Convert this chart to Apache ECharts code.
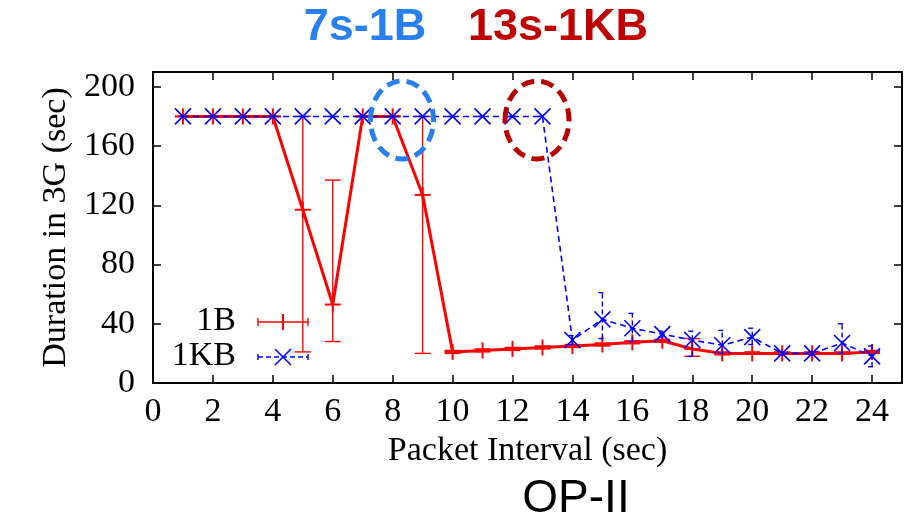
<!DOCTYPE html>
<html><head><meta charset="utf-8">
<script src="https://cdn.jsdelivr.net/npm/echarts@6/dist/echarts.min.js"></script>
<style>html,body{margin:0;padding:0;background:#fff}#c{width:910px;height:518px}</style>
</head><body><div id="c"></div>
<script>
// Packet interval (sec)
const intervals = [1,2,3,4,5,6,7,8,9,10,11,12,13,14,15,16,17,18,19,20,21,22,23,24];
// 1B series: mean, low, high (sec)
const b1Mean = [180,180,180,180,117,53,180,180,127,21,22,23,24,25,26,27.5,28.5,23,20,20,20,20,20,21];
const b1Low  = [180,180,180,180,21,28,180,180,20,20,21,22,23,24,25,26.5,27.5,18,19,19.5,19.5,19.5,19.5,20];
const b1High = [180,180,180,180,180,137,180,180,180,22,23,24,25,26,27,28.5,29.5,30,21,21,21,21,21,22];
// 1KB series: mean, low, high (sec)
const kbMean = [180,180,180,180,180,180,180,180,180,180,180,180,180,29,43,37,33,29,25.5,31,20,20,27,18];
const kbLow  = [180,180,180,180,180,180,180,180,180,180,180,180,180,26,30,28,31,18,20,26,19,19,20,11];
const kbHigh = [180,180,180,180,180,180,180,180,180,180,180,180,180,32,61,47,35,35,35.5,37,21,21,40,25];
const seriesNames = ['1B','1KB'];
const annotations = ['7s-1B','13s-1KB'];
const panelLabel = 'OP-II';
const xAxisTitle = 'Packet Interval (sec)';
const yAxisTitle = 'Duration in 3G (sec)';

const RED = '#ff0000', BLUE = '#0000ff';
const serif = 'Liberation Serif';

function errRender(color, kind, dashed, capW, lw) {
  return function (params, api) {
    const x = api.value(0), y = api.value(1), lo = api.value(2), hi = api.value(3);
    const p = api.coord([x, y]), pl = api.coord([x, lo]), ph = api.coord([x, hi]);
    const st = {stroke: color, fill: null, lineWidth: lw, lineDash: dashed ? [5, 3] : null};
    const ch = [];
    ch.push({type: 'line', shape: {x1: p[0], y1: pl[1], x2: p[0], y2: ph[1]}, style: st});
    ch.push({type: 'line', shape: {x1: p[0] - capW, y1: pl[1], x2: p[0] + capW, y2: pl[1]}, style: st});
    ch.push({type: 'line', shape: {x1: p[0] - capW, y1: ph[1], x2: p[0] + capW, y2: ph[1]}, style: st});
    const m = 8, ms = {stroke: color, fill: null, lineWidth: kind === '+' ? 2 : 1.6};
    if (kind === '+') {
      ch.push({type: 'line', shape: {x1: p[0] - m, y1: p[1], x2: p[0] + m, y2: p[1]}, style: ms});
      ch.push({type: 'line', shape: {x1: p[0], y1: p[1] - m, x2: p[0], y2: p[1] + m}, style: ms});
    } else {
      ch.push({type: 'line', shape: {x1: p[0] - m, y1: p[1] - m, x2: p[0] + m, y2: p[1] + m}, style: ms});
      ch.push({type: 'line', shape: {x1: p[0] - m, y1: p[1] + m, x2: p[0] + m, y2: p[1] - m}, style: ms});
    }
    return {type: 'group', children: ch};
  };
}

const axisCommonX = {
  type: 'value', min: 0, max: 25, interval: 2,
  axisLine: {show: true, onZero: false, lineStyle: {color: '#000', width: 2}},
  axisTick: {show: true, inside: true, length: 8, lineStyle: {color: '#000', width: 1.5}},
  splitLine: {show: false}
};
const axisCommonY = {
  type: 'value', min: 0, max: 210, interval: 40,
  axisLine: {show: true, onZero: false, lineStyle: {color: '#000', width: 2}},
  axisTick: {show: true, inside: true, length: 8, lineStyle: {color: '#000', width: 1.5}},
  splitLine: {show: false}
};

const chart = echarts.init(document.getElementById('c'), null, {renderer: 'canvas'});
const legendY1 = 322, legendY2 = 357;
chart.setOption({
  animation: false,
  backgroundColor: '#fff',
  grid: {left: 153, right: 8, top: 72, bottom: 135},
  xAxis: [
    Object.assign({}, axisCommonX, {
      position: 'bottom',
      axisLabel: {show: true, showMaxLabel: false, margin: 12, color: '#000', fontFamily: serif, fontSize: 34},
      name: xAxisTitle, nameLocation: 'middle', nameGap: 39,
      nameTextStyle: {color: '#000', fontFamily: serif, fontSize: 34}
    }),
    Object.assign({}, axisCommonX, {position: 'top', axisLabel: {show: false}})
  ],
  yAxis: [
    Object.assign({}, axisCommonY, {
      position: 'left',
      axisLabel: {show: true, showMaxLabel: false, margin: 18, color: '#000', fontFamily: serif, fontSize: 34},
      name: yAxisTitle, nameLocation: 'middle', nameGap: 76, nameRotate: 90,
      nameTextStyle: {color: '#000', fontFamily: serif, fontSize: 34}
    }),
    Object.assign({}, axisCommonY, {position: 'right', axisLabel: {show: false}})
  ],
  series: [
    {name: seriesNames[0], type: 'line', z: 2, symbol: 'none',
     data: intervals.map((x, i) => [x, b1Mean[i]]),
     lineStyle: {color: RED, width: 3}},
    {name: seriesNames[0] + ' err', type: 'custom', z: 3,
     renderItem: errRender(RED, '+', false, 8, 1.4),
     data: intervals.map((x, i) => [x, b1Mean[i], b1Low[i], b1High[i]])},
    {name: seriesNames[1], type: 'line', z: 4, symbol: 'none',
     data: intervals.map((x, i) => [x, kbMean[i]]),
     lineStyle: {color: BLUE, width: 1.6, type: [6, 4]}},
    {name: seriesNames[1] + ' err', type: 'custom', z: 5,
     renderItem: errRender(BLUE, 'x', true, 4, 1.4),
     data: intervals.map((x, i) => [x, kbMean[i], kbLow[i], kbHigh[i]])}
  ],
  graphic: [
    // legend
    {type: 'text', right: 910 - 236, top: legendY1 - 18, style: {text: seriesNames[0], fill: '#000', font: '34px "Liberation Serif"', textAlign: 'right'}},
    {type: 'text', right: 910 - 236, top: legendY2 - 18, style: {text: seriesNames[1], fill: '#000', font: '34px "Liberation Serif"', textAlign: 'right'}},
    {type: 'line', shape: {x1: 258, y1: legendY1, x2: 308, y2: legendY1}, style: {stroke: RED, lineWidth: 1.4}},
    {type: 'line', shape: {x1: 258, y1: legendY1 - 4, x2: 258, y2: legendY1 + 4}, style: {stroke: RED, lineWidth: 1.4}},
    {type: 'line', shape: {x1: 308, y1: legendY1 - 4, x2: 308, y2: legendY1 + 4}, style: {stroke: RED, lineWidth: 1.4}},
    {type: 'line', shape: {x1: 283, y1: legendY1 - 8, x2: 283, y2: legendY1 + 8}, style: {stroke: RED, lineWidth: 2}},
    {type: 'line', shape: {x1: 258, y1: legendY2, x2: 308, y2: legendY2}, style: {stroke: BLUE, lineWidth: 1.4, lineDash: [5, 3]}},
    {type: 'line', shape: {x1: 258, y1: legendY2 - 3, x2: 258, y2: legendY2 + 3}, style: {stroke: BLUE, lineWidth: 1.4}},
    {type: 'line', shape: {x1: 308, y1: legendY2 - 3, x2: 308, y2: legendY2 + 3}, style: {stroke: BLUE, lineWidth: 1.4}},
    {type: 'line', shape: {x1: 275, y1: legendY2 - 8, x2: 291, y2: legendY2 + 8}, style: {stroke: BLUE, lineWidth: 1.6}},
    {type: 'line', shape: {x1: 275, y1: legendY2 + 8, x2: 291, y2: legendY2 - 8}, style: {stroke: BLUE, lineWidth: 1.6}},
    // annotations
    {type: 'ellipse', z: 10, shape: {cx: 402, cy: 120, rx: 31.5, ry: 39}, style: {stroke: '#2a7ff0', fill: null, lineWidth: 5, lineDash: [13, 7]}},
    {type: 'ellipse', z: 10, shape: {cx: 537, cy: 120, rx: 32, ry: 39}, style: {stroke: '#b80000', fill: null, lineWidth: 5, lineDash: [13, 7]}},
    {type: 'text', z: 10, x: 365, y: 28, style: {text: annotations[0], fill: '#2a7ff0', font: 'bold 45px "Liberation Sans"', textAlign: 'center', textVerticalAlign: 'middle'}},
    {type: 'text', z: 10, x: 558, y: 28, style: {text: annotations[1], fill: '#c00000', font: 'bold 45px "Liberation Sans"', textAlign: 'center', textVerticalAlign: 'middle'}},
    {type: 'text', z: 10, x: 576, y: 499, style: {text: panelLabel, fill: '#000', font: '46px "Liberation Sans"', textAlign: 'center', textVerticalAlign: 'middle'}}
  ]
});
</script>
</body></html>
